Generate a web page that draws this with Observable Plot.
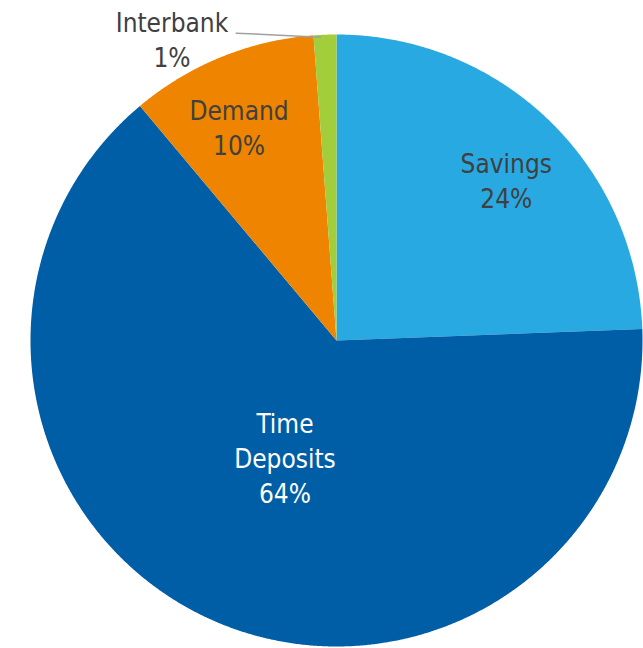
<!DOCTYPE html>
<html>
<head>
<meta charset="utf-8">
<script src="https://cdn.jsdelivr.net/npm/d3@7"></script>
<script src="https://cdn.jsdelivr.net/npm/@observablehq/plot@0.6"></script>
<style>
  html, body { margin: 0; padding: 0; background: #fff; }
  svg { display: block; }
</style>
</head>
<body>
<div id="chart"></div>
<script>
const categories = ["Savings", "Time Deposits", "Demand", "Interbank"];
const values = [24.4, 64.5, 9.9, 1.2];
const labels = ["24%", "64%", "10%", "1%"];
const colors = ["#29A9E1", "#005EA6", "#EE8400", "#A3CE3C"];

// layout (styles, not data)
const labelRadius = [0.765, 0.415, 0.77, 1.0];
const labelAngleShift = [0.045, 0, -0.04, 0];
const textFill = ["#404040", "#ffffff", "#404040", "#404040"];
const titleText = ["Savings", "Time\nDeposits", "Demand", "Interbank"];

const total = d3.sum(values);
let acc = 0;
const slices = categories.map((c, i) => {
  const a0 = acc / total * 2 * Math.PI;
  acc += values[i];
  const a1 = acc / total * 2 * Math.PI;
  return {name: c, i, a0, a1, mid: (a0 + a1) / 2};
});

// polygon points for each slice (angles clockwise from 12 o'clock)
const pts = [];
for (const s of slices) {
  const n = Math.max(4, Math.ceil((s.a1 - s.a0) / 0.005));
  pts.push({name: s.name, x: 0, y: 0});
  for (let k = 0; k <= n; k++) {
    const a = s.a0 + (s.a1 - s.a0) * k / n;
    pts.push({name: s.name, x: Math.sin(a), y: Math.cos(a)});
  }
  pts.push({name: s.name, x: 0, y: 0});
}

// Interbank leader line (from slice edge outward to the left)
const ib = slices[3];
const edge = {x: Math.sin(ib.mid), y: Math.cos(ib.mid)};
const leader = [
  {x: edge.x - 0.015, y: edge.y - 0.008},
  {x: edge.x - 0.29, y: edge.y + 0.005}
];

// text rows
const textRows = slices.map(s => {
  const r = labelRadius[s.i];
  const a = s.mid + labelAngleShift[s.i];
  let x = r * Math.sin(a), y = r * Math.cos(a);
  if (s.i === 3) { x = leader[1].x - 0.21; y = leader[1].y - 0.018; }
  return {text: titleText[s.i] + "\n" + labels[s.i], x, y, fill: textFill[s.i]};
});

const plot = Plot.plot({
  width: 643,
  height: 648,
  marginLeft: 30,
  marginRight: 1,
  marginTop: 34,
  marginBottom: 2,
  x: {domain: [-1, 1], axis: null},
  y: {domain: [-1, 1], axis: null},
  color: {domain: categories, range: colors},
  style: {fontFamily: "'DejaVu Sans Condensed', 'DejaVu Sans', sans-serif", overflow: "visible"},
  marks: [
    Plot.line(pts, {x: "x", y: "y", z: "name", fill: "name", stroke: null, curve: "linear"}),
    Plot.line(leader, {x: "x", y: "y", stroke: "#a0a0a0", strokeWidth: 1.5}),
    Plot.text(textRows, {x: "x", y: "y", text: "text", fill: d => d.fill, fontSize: 26, lineHeight: 1.35, textAnchor: "middle", lineAnchor: "middle"})
  ]
});
document.getElementById("chart").appendChild(plot);
</script>
</body>
</html>
